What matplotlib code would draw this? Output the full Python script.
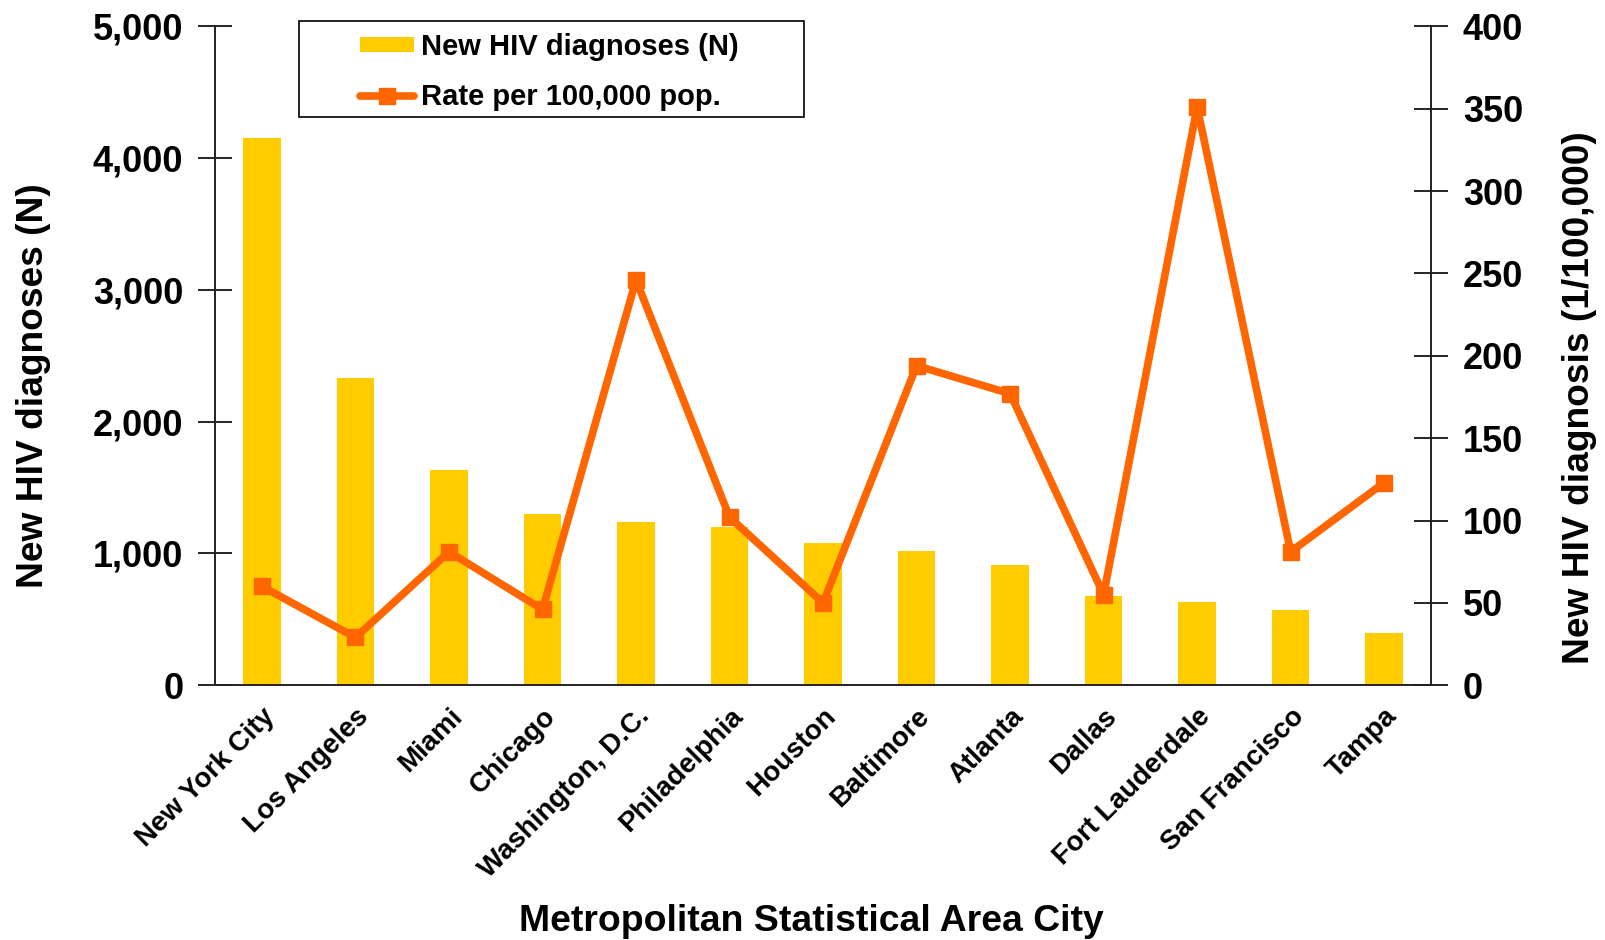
import numpy as np
import matplotlib
matplotlib.use('Agg')
import matplotlib.pyplot as plt
from matplotlib.patches import Rectangle
from matplotlib.ticker import FuncFormatter

plt.rcParams['font.family'] = ['Liberation Sans', 'DejaVu Sans']

cities = ['New York City', 'Los Angeles', 'Miami', 'Chicago', 'Washington, D.C.',
          'Philadelphia', 'Houston', 'Baltimore', 'Atlanta', 'Dallas',
          'Fort Lauderdale', 'San Francisco', 'Tampa']
new_diagnoses = [4150, 2330, 1630, 1300, 1240, 1200, 1080, 1020, 910, 680, 630, 570, 400]
rate_per_100k = [60, 29, 81, 46, 246, 102, 50, 194, 177, 55, 351, 81, 123]

bar_color = '#FFCC00'
line_color = '#FF6600'

fig = plt.figure(figsize=(16.06, 9.4), dpi=100)
ax = fig.add_axes([0.134, 0.271, 0.757, 0.701])
ax2 = ax.twinx()

x = np.arange(len(cities))
bars = ax.bar(x, new_diagnoses, width=0.4, color=bar_color, zorder=2,
              label='New HIV diagnoses (N)')
line, = ax2.plot(x, rate_per_100k, color=line_color, linewidth=5.5, marker='s',
                 markersize=11, solid_joinstyle='round', solid_capstyle='round',
                 label='Rate per 100,000 pop.')

ax.set_xlim(-0.5, len(cities) - 0.5)
ax.set_ylim(0, 5000)
ax.set_yticks(np.arange(0, 5001, 1000))
ax.yaxis.set_major_formatter(FuncFormatter(lambda v, p: '{:,.0f}'.format(v)))
ax2.set_ylim(0, 400)
ax2.set_yticks(np.arange(0, 401, 50))

for a in (ax, ax2):
    a.spines['top'].set_visible(False)
    for s in a.spines.values():
        s.set_linewidth(1.2)
        s.set_color('#222222')

ax.tick_params(axis='y', direction='inout', length=24, width=1.2, pad=11,
               labelsize=26)
ax2.tick_params(axis='y', direction='inout', length=24, width=1.2, pad=11,
                labelsize=26)
for lab in ax.get_yticklabels() + ax2.get_yticklabels():
    lab.set_fontweight('bold')

ax.set_xticks(x)
ax.set_xticklabels(cities, rotation=45, ha='right', rotation_mode='anchor',
                   fontsize=20, fontweight='bold')
ax.tick_params(axis='x', length=0, pad=13)

ax.set_ylabel('New HIV diagnoses (N)', fontsize=26.7, fontweight='bold')
ax.yaxis.set_label_coords(-0.135, 0.455)
ax2.set_ylabel('New HIV diagnosis (1/100,000)', fontsize=26.7, fontweight='bold')
ax2.yaxis.set_label_coords(1.108, 0.437)
ax.set_xlabel('Metropolitan Statistical Area City', fontsize=26.9, fontweight='bold')
ax.xaxis.set_label_coords(0.49, -0.332)

ax2.set_zorder(ax.get_zorder() + 1)
ax.patch.set_visible(True)
ax2.patch.set_visible(False)

leg = fig.legend([bars, line], ['New HIV diagnoses (N)', 'Rate per 100,000 pop.'],
                 loc='upper left', bbox_to_anchor=(360 / 1606, 1 - 33 / 940),
                 prop={'size': 21, 'weight': 'bold'}, frameon=False,
                 handlelength=1.85, handleheight=0.45, handletextpad=0.25,
                 borderpad=0, labelspacing=0.75, borderaxespad=0)

# legend box is wider than its contents in the original
fig.patches.append(Rectangle((299 / 1606, 1 - 117 / 940), 505 / 1606, 96 / 940,
                             transform=fig.transFigure, fill=False,
                             edgecolor='black', linewidth=1.2))

plt.savefig('out.png', dpi=100)
